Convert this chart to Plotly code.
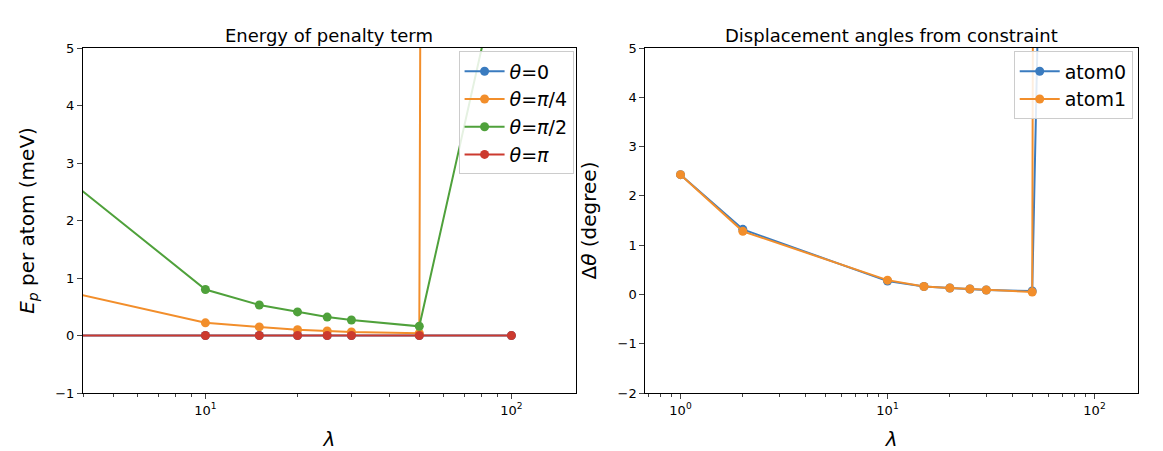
import plotly.graph_objects as go
from plotly.subplots import make_subplots

lam = [2, 10, 15, 20, 25, 30, 50, 100]
e_theta0 = [0, 0, 0, 0, 0, 0, 0, 0]
e_pi4 = [1.06, 0.22, 0.15, 0.10, 0.08, 0.06, 0.04, 500]
e_pi2 = [3.78, 0.80, 0.53, 0.41, 0.32, 0.27, 0.16, 7.3]
e_pi = [0, 0, 0, 0, 0, 0, 0, 0]

lam_r = [1, 2, 10, 15, 20, 25, 30, 50, 100]
atom0 = [2.43, 1.32, 0.27, 0.16, 0.13, 0.11, 0.09, 0.07, 60]
atom1 = [2.43, 1.28, 0.29, 0.16, 0.13, 0.11, 0.09, 0.05, 500]

minor_vals = [0.7, 0.8, 0.9, 2, 3, 4, 5, 6, 7, 8, 9, 20, 30, 40, 50, 60, 70, 80, 90]

blue, orange, green, red = "#3a7bbf", "#f28e2b", "#4fa13b", "#cc3a2f"

fig = make_subplots(rows=1, cols=2, horizontal_spacing=0.066,
                    subplot_titles=("Energy of penalty term", "Displacement angles from constraint"))

for col in (1, 2):
    fig.add_hline(y=0, line=dict(color="black", width=0.8, dash="dot"), layer="below", row=1, col=col)

left = [("<i>θ</i>=0", e_theta0, blue), ("<i>θ</i>=<i>π</i>/4", e_pi4, orange),
        ("<i>θ</i>=<i>π</i>/2", e_pi2, green), ("<i>θ</i>=<i>π</i>", e_pi, red)]
for name, y, c in left:
    fig.add_trace(go.Scatter(x=lam, y=y, name=name, mode="lines+markers", legend="legend",
                             line=dict(color=c, width=2), marker=dict(color=c, size=9)), 1, 1)
for name, y, c in [("atom0", atom0, blue), ("atom1", atom1, orange)]:
    fig.add_trace(go.Scatter(x=lam_r, y=y, name=name, mode="lines+markers", legend="legend2",
                             line=dict(color=c, width=2), marker=dict(color=c, size=9)), 1, 2)

ax = dict(showline=True, linecolor="black", mirror=True, ticks="outside", showgrid=False,
          zeroline=False, tickfont=dict(size=13), title_font=dict(size=20))
fig.update_xaxes(type="log", title_text="<i>λ</i>", tickvals=[1, 10, 100],
                 ticktext=["10<sup>0</sup>", "10<sup>1</sup>", "10<sup>2</sup>"],
                 minor=dict(ticks="outside", ticklen=3, tickvals=minor_vals, showgrid=False), **ax)
fig.update_xaxes(range=[0.6, 2.21], row=1, col=1)
fig.update_xaxes(range=[-0.17, 2.21], row=1, col=2)
fig.update_yaxes(range=[-1, 5], dtick=1, title_text="<i>E<sub>p</sub></i> per atom (meV)", row=1, col=1, **ax)
fig.update_yaxes(range=[-2, 5], dtick=1, title_text="Δ<i>θ</i> (degree)", row=1, col=2, **ax)

leg = dict(bgcolor="rgba(255,255,255,0.85)", bordercolor="#cccccc", borderwidth=1,
           font=dict(size=19), xanchor="right", yanchor="top", y=0.99, itemwidth=40)
fig.update_layout(
    width=1163, height=451, plot_bgcolor="white", paper_bgcolor="white",
    font=dict(family="DejaVu Sans", color="black"),
    margin=dict(l=75, r=33, t=40, b=60),
    legend=dict(x=0.465, **leg), legend2=dict(x=0.995, **leg),
)
fig.update_annotations(font=dict(size=18))
fig.write_html("out.html")
